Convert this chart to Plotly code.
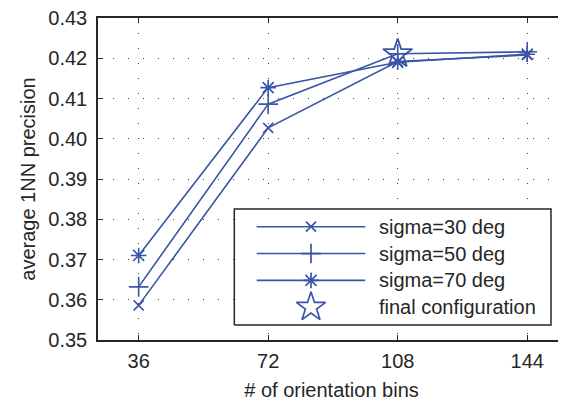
import plotly.graph_objects as go

bins = [36, 72, 108, 144]
sigma30 = [0.3586, 0.4027, 0.4192, 0.4208]
sigma50 = [0.3632, 0.4086, 0.4211, 0.4216]
sigma70 = [0.3710, 0.4127, 0.4190, 0.4210]
final_x = [108]
final_y = [0.4211]
series_names = ["sigma=30 deg", "sigma=50 deg", "sigma=70 deg", "final configuration"]
y_ticks = [0.35, 0.36, 0.37, 0.38, 0.39, 0.40, 0.41, 0.42, 0.43]
y_tick_text = ["0.35", "0.36", "0.37", "0.38", "0.39", "0.40", "0.41", "0.42", "0.43"]

BLUE = "#3a55a6"
AX = "#262626"
FONT = "Liberation Sans, Arial, sans-serif"

fig = go.Figure()
series = [(sigma30, "x-thin-open", 10), (sigma50, "cross-thin-open", 14), (sigma70, "asterisk-open", 13)]
for vals, sym, sz in series:
    fig.add_trace(go.Scatter(x=bins, y=vals, mode="lines+markers",
                             line=dict(color=BLUE, width=1.6),
                             marker=dict(symbol=sym, size=sz, line=dict(color=BLUE, width=1.6)),
                             showlegend=False))
fig.add_trace(go.Scatter(x=final_x, y=final_y, mode="markers",
                         marker=dict(symbol="star-open", size=22, color=BLUE, line=dict(color=BLUE, width=1.8)),
                         showlegend=False))

# manual legend drawn on an overlay 0..1 axis pair
lx0, lx1 = 0.2919, 0.970
ly0, ly1 = 0.0463, 0.4065
rows = [0.3519, 0.2685, 0.1852, 0.1019]
line_x = [0.3398, 0.5722]
mx = 0.4561
tx = 0.5968
fig.add_trace(go.Scatter(x=[lx0, lx1, lx1, lx0, lx0], y=[ly0, ly0, ly1, ly1, ly0], mode="lines",
                         fill="toself", fillcolor="white", line=dict(color=AX, width=1.5),
                         xaxis="x2", yaxis="y2", showlegend=False, hoverinfo="skip"))
syms = [("x-thin-open", 10), ("cross-thin-open", 14), ("asterisk-open", 13), ("star-open", 22)]
for i, (name, (sym, sz)) in enumerate(zip(series_names, syms)):
    if i < 3:
        fig.add_trace(go.Scatter(x=line_x, y=[rows[i], rows[i]], mode="lines", xaxis="x2", yaxis="y2",
                                 line=dict(color=BLUE, width=1.6), showlegend=False, hoverinfo="skip"))
    fig.add_trace(go.Scatter(x=[mx], y=[rows[i]], mode="markers", xaxis="x2", yaxis="y2",
                             marker=dict(symbol=sym, size=sz, color=BLUE, line=dict(color=BLUE, width=1.7)),
                             showlegend=False, hoverinfo="skip"))
    fig.add_annotation(text=name, xref="x2", yref="y2", x=tx, y=rows[i],
                       xanchor="left", yanchor="middle", showarrow=False,
                       font=dict(size=20, color=AX, family=FONT))

grid = dict(showgrid=True, gridcolor="#444444", griddash="1px,14px", gridwidth=1.2, zeroline=False)
fig.update_layout(
    width=558, height=396,
    margin=dict(l=90, r=1, t=10, b=64),
    paper_bgcolor="white", plot_bgcolor="white",
    font=dict(family=FONT, size=20, color=AX),
    xaxis=dict(range=[24.7, 154.5], tickvals=bins, ticktext=[str(b) for b in bins],
               ticks="inside", ticklen=5, tickcolor=AX, mirror="ticks", showline=True,
               linecolor=AX, linewidth=1.5, ticklabelstandoff=2, automargin=False,
               ticklabeloverflow="allow",
               title=dict(text="# of orientation bins", standoff=12, font=dict(size=20)),
               tickfont=dict(size=20), **grid),
    yaxis=dict(range=[0.35, 0.43], tickvals=y_ticks, ticktext=y_tick_text,
               ticks="inside", ticklen=5, tickcolor=AX, mirror="ticks", showline=True,
               linecolor=AX, linewidth=1.5, ticklabelstandoff=5, automargin=False,
               ticklabeloverflow="allow",
               title=dict(text="average 1NN precision", standoff=7, font=dict(size=20)),
               tickfont=dict(size=20), **grid),
    xaxis2=dict(overlaying="x", range=[0, 1], visible=False, fixedrange=True),
    yaxis2=dict(overlaying="y", range=[0, 1], visible=False, fixedrange=True),
)

fig.write_html("out.html")
